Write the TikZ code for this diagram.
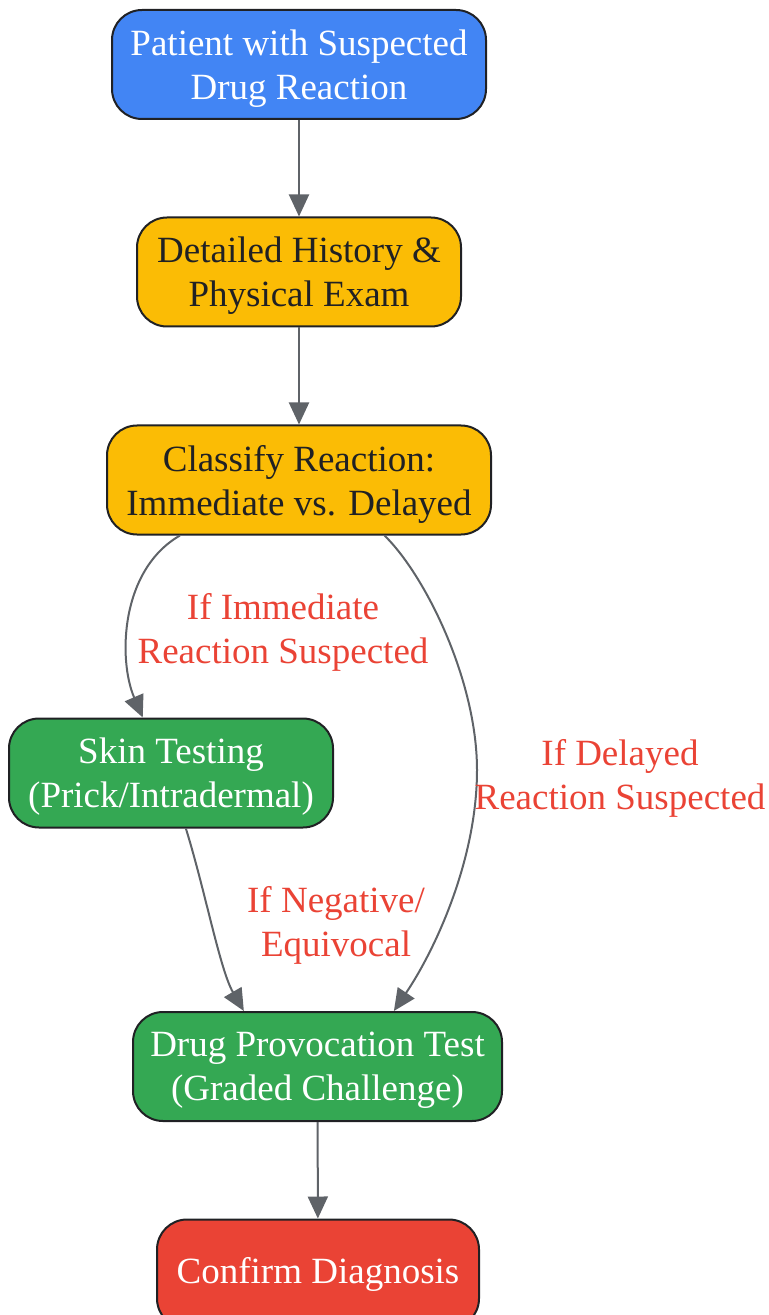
\documentclass[tikz,border=0pt]{standalone}
\usepackage{fontspec}
\setmainfont{Liberation Serif}
\usetikzlibrary{arrows.meta}
\definecolor{gblue}{HTML}{4285F4}
\definecolor{gyellow}{HTML}{FBBC05}
\definecolor{ggreen}{HTML}{34A853}
\definecolor{gred}{HTML}{EA4335}
\definecolor{edgegray}{HTML}{5F6368}
\definecolor{darktext}{HTML}{202124}
\begin{document}
\begin{tikzpicture}[x=0.5pt,y=0.5pt,yscale=-1,xscale=1,
  box/.style={draw=darktext, line width=1pt, rounded corners=15pt, align=center,
    minimum height=54.5pt, inner sep=0pt, text depth=-1pt,
    font=\fontsize{18.5}{22}\selectfont},
  edge/.style={draw=edgegray, line width=1pt, -{Triangle[length=11pt,width=10pt]}},
  lbl/.style={text=gred, align=center, font=\fontsize{18.5}{22}\selectfont}]
\useasboundingbox (0,0) rectangle (768,1315);

%Flowchart: Process [id:patient]
\draw (299,64.5) node (patient) [box, fill=gblue, text=white, minimum width=187pt] {Patient with Suspected\\Drug Reaction};
%Flowchart: Process [id:history]
\draw (299,272) node (history) [box, fill=gyellow, text=darktext, minimum width=162pt] {Detailed History \&\\Physical Exam};
%Flowchart: Process [id:classify]
\draw (299,480) node (classify) [box, fill=gyellow, text=darktext, minimum width=192pt] {Classify Reaction:\\Immediate vs. Delayed};
%Flowchart: Process [id:skin]
\draw (171,773) node (skin) [box, fill=ggreen, text=white, minimum width=162pt] {Skin Testing\\(Prick/Intradermal)};
%Flowchart: Process [id:provocation]
\draw (317.5,1066.5) node (provocation) [box, fill=ggreen, text=white, minimum width=184.5pt] {Drug Provocation Test\\(Graded Challenge)};
%Flowchart: Process [id:confirm]
\draw (318,1274) node (confirm) [box, fill=gred, text=white, minimum width=161pt, text depth=4pt] {Confirm Diagnosis};

%Straight Lines
\draw [edge] (patient) -- (history);
\draw [edge] (history) -- (classify);
\draw [edge] (provocation) -- (confirm);

%Curves
\draw [edge] (classify.205) .. controls (120,570) and (118,660) .. (skin.117);
\coordinate (bend) at (477,770);
\draw [edge] (classify.327) .. controls (425,575) and (477,680) .. (bend) .. controls (477,860) and (435,950) .. (provocation.36);
\draw [edge] (skin.285) .. controls (205,890) and (220,970) .. (provocation.143);

% Text Node
\draw (283,632) node (immlbl) [lbl] {If Immediate\\Reaction Suspected};
% Text Node
\draw (620,778) node (dellbl) [lbl] {If Delayed\\Reaction Suspected};
% Text Node
\draw (336,925) node (neglbl) [lbl] {If Negative/\\Equivocal};

\end{tikzpicture}
\end{document}
